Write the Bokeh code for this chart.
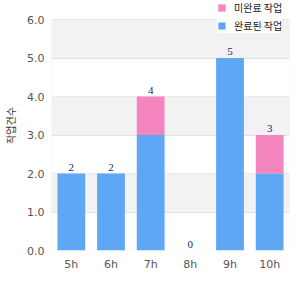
from bokeh.plotting import figure
from bokeh.models import ColumnDataSource, Legend, LegendItem, BoxAnnotation, NumeralTickFormatter, FixedTicker, LabelSet
from bokeh.embed import file_html
from bokeh.resources import INLINE

hours = ["5h", "6h", "7h", "8h", "9h", "10h"]
done = [2, 2, 3, 0, 5, 2]
pending = [0, 0, 1, 0, 0, 1]
totals = [d + q for d, q in zip(done, pending)]
series_names = ["완료된 작업", "미완료 작업"]
y_title = "작업건수"
y_ticks = [0, 1, 2, 3, 4, 5, 6]

BLUE = "#5ea7f4"
PINK = "#f384bd"

src = ColumnDataSource(dict(hours=hours, done=done, pending=pending, totals=totals,
                            lbl=[str(t) for t in totals]))

# frame spans y pixels 0..250; value 6 lands at pixel 19
y_top = 6 * 250 / 231
p = figure(x_range=hours, y_range=(0, y_top), width=300, height=300,
           min_border_left=50, min_border_right=11, min_border_top=0, min_border_bottom=50,
           output_backend="svg", toolbar_location=None, background_fill_color="white",
           border_fill_color="white", outline_line_color=None)

for lo, hi in [(1, 2), (3, 4), (5, 6)]:
    p.add_layout(BoxAnnotation(bottom=lo, top=hi, fill_color="#f2f2f2", fill_alpha=1.0,
                               line_color=None, level="underlay"))

rs = p.vbar_stack(["done", "pending"], x="hours", width=0.7, source=src,
                  color=[BLUE, PINK], line_color=None)

labels = LabelSet(x="hours", y="totals", text="lbl", source=src, text_align="center",
                  text_baseline="bottom", y_offset=3, text_font_size="11px",
                  text_color="#1a1a80", text_font="DejaVu Sans")
p.add_layout(labels)

# plot-area border (0..6)
p.add_layout(BoxAnnotation(bottom=0, top=6, fill_alpha=0, line_color="#d8d8d8", line_width=1))

p.xgrid.grid_line_color = None
p.ygrid.grid_line_color = "#e2e2e2"
p.ygrid.ticker = FixedTicker(ticks=y_ticks)
p.yaxis.ticker = FixedTicker(ticks=y_ticks)
p.yaxis.formatter = NumeralTickFormatter(format="0.0")
for ax in (p.xaxis[0], p.yaxis[0]):
    ax.axis_line_color = None
    ax.major_tick_line_color = None
    ax.minor_tick_line_color = None
    ax.major_tick_out = 0
    ax.major_tick_in = 0
    ax.minor_tick_out = 0
    ax.minor_tick_in = 0
    ax.major_label_text_font_size = "11px"
    ax.major_label_text_color = "#555555"
    ax.major_label_text_font = "DejaVu Sans"
p.xaxis.major_label_standoff = 7
p.yaxis.major_label_standoff = 7
p.yaxis.axis_label = y_title
p.yaxis.axis_label_text_font_size = "10px"
p.yaxis.axis_label_text_font_style = "normal"
p.yaxis.axis_label_text_color = "#333333"
p.yaxis.axis_label_text_font = "Noto Sans CJK KR"
p.yaxis.axis_label_standoff = 6

legend = Legend(items=[LegendItem(label=series_names[1], renderers=[rs[1]]),
                       LegendItem(label=series_names[0], renderers=[rs[0]])],
                location=(166, 217), glyph_width=9, glyph_height=9, label_height=11,
                spacing=3, padding=3, margin=0, label_text_font_size="10px",
                label_text_font="Noto Sans CJK KR", label_text_color="#222222",
                border_line_color=None, background_fill_alpha=1.0,
                label_standoff=8)
p.add_layout(legend, "center")

open("out.html", "w").write(file_html(p, INLINE))
